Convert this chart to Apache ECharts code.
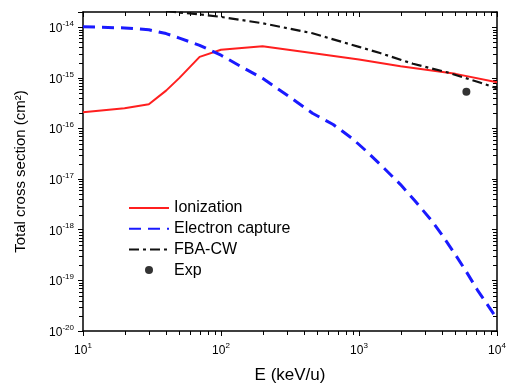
<!DOCTYPE html>
<html>
<head>
<meta charset="utf-8">
<script src="https://cdn.jsdelivr.net/npm/echarts@6/dist/echarts.min.js"></script>
<style>
  html, body { margin: 0; padding: 0; background: #fff; }
  #chart { width: 506px; height: 383px; }
</style>
</head>
<body>
<div id="chart"></div>
<script>
// Energy in keV/u, cross sections in cm^2
const ionizationE = [10, 20, 30, 40, 50, 70, 100, 200, 500, 1000, 2000, 5000, 10000];
const ionizationSigma = [2.1e-16, 2.5e-16, 3.0e-16, 5.6e-16, 1.0e-15, 2.6e-15, 3.6e-15, 4.2e-15, 3.0e-15, 2.3e-15, 1.7e-15, 1.2e-15, 8.2e-16];

const captureE = [10, 20, 30, 40, 50, 70, 100, 150, 200, 300, 460, 650, 890, 1140, 1500, 2000, 2550, 3400, 4000, 5000, 6000, 7200, 10000];
const captureSigma = [1.02e-14, 9.7e-15, 8.9e-15, 7.5e-15, 6.1e-15, 4.4e-15, 2.8e-15, 1.5e-15, 9.8e-16, 4.6e-16, 2.0e-16, 1.2e-16, 6.4e-17, 3.5e-17, 1.7e-17, 7.8e-18, 3.7e-18, 1.45e-18, 7.9e-19, 3.2e-19, 1.48e-19, 6.5e-20, 1.75e-20];

const fbaE = [40, 50, 70, 100, 200, 460, 1000, 1420, 2460, 4340, 7500, 10000];
const fbaSigma = [2.1e-14, 1.95e-14, 1.8e-14, 1.6e-14, 1.2e-14, 7.6e-15, 4.1e-15, 3.1e-15, 1.9e-15, 1.29e-15, 8.1e-16, 6.2e-16];

const expE = [6000];
const expSigma = [5.3e-16];

const seriesNames = ['Ionization', 'Electron capture', 'FBA-CW', 'Exp'];

const xMin = 10, xMax = 10000;
const yMin = 1e-20, yMax = 2e-14;

const FONT = '"Liberation Sans", Arial, sans-serif';

function pairs(xs, ys) {
  return xs.map((x, i) => [x, ys[i]]);
}

// 10^n labels with a raised exponent; non-decade ticks stay blank
function powerLabel(v) {
  const e = Math.log10(v);
  const n = Math.round(e);
  if (Math.abs(e - n) > 1e-6) return '';
  return '{b|10}{s|' + n + '}';
}
const powerRich = {
  b: { fontSize: 12, fontFamily: FONT, color: '#000', verticalAlign: 'bottom' },
  s: { fontSize: 8, fontFamily: FONT, color: '#000', verticalAlign: 'top', padding: [0, 0, 7, 0] }
};

const axisLine = { show: true, lineStyle: { color: '#000', width: 1.5 } };
const majorTick = (inside) => ({ show: true, inside: inside, length: 5, lineStyle: { color: '#000', width: 1 } });

const chart = echarts.init(document.getElementById('chart'), null, { renderer: 'canvas' });
chart.setOption({
  animation: false,
  backgroundColor: '#fff',
  grid: { left: 83, right: 9, top: 12, bottom: 52, containLabel: false, outerBoundsMode: 'none' },
  xAxis: [
    {
      type: 'log', logBase: 10, min: xMin, max: xMax, position: 'bottom',
      name: 'E (keV/u)', nameLocation: 'middle', nameGap: 36,
      nameTextStyle: { fontSize: 17, fontFamily: FONT, color: '#000' },
      axisLine: axisLine, axisTick: majorTick(false),
      axisLabel: { margin: 11, formatter: powerLabel, rich: powerRich, showMinLabel: true, showMaxLabel: true },
      splitLine: { show: false }
    },
    {
      type: 'log', logBase: 10, min: xMin, max: xMax, position: 'top',
      axisLine: axisLine, axisTick: majorTick(true),
      axisLabel: { show: false }, splitLine: { show: false }
    }
  ],
  yAxis: [
    {
      type: 'log', logBase: 10, min: yMin, max: yMax, position: 'left',
      name: 'Total cross section (cm²)', nameLocation: 'middle', nameGap: 55,
      nameTextStyle: { fontSize: 15, fontFamily: FONT, color: '#000' },
      axisLine: axisLine, axisTick: majorTick(false),
      axisLabel: { margin: 9, formatter: powerLabel, rich: powerRich, showMinLabel: true, showMaxLabel: true },
      splitLine: { show: false }
    },
    {
      type: 'log', logBase: 10, min: yMin, max: yMax, position: 'right',
      axisLine: axisLine, axisTick: majorTick(true),
      axisLabel: { show: false }, splitLine: { show: false }
    }
  ],
  legend: {
    orient: 'vertical', left: 123, top: 195,
    itemWidth: 40, itemHeight: 8, itemGap: 4.7,
    textStyle: { fontSize: 16, fontFamily: FONT, color: '#000' },
    data: [
      { name: seriesNames[0], itemStyle: { opacity: 0 } },
      { name: seriesNames[1], itemStyle: { opacity: 0 } },
      { name: seriesNames[2], itemStyle: { opacity: 0 } },
      { name: seriesNames[3] }
    ]
  },
  series: [
    {
      name: seriesNames[0], type: 'line', data: pairs(ionizationE, ionizationSigma),
      symbol: 'none', clip: true,
      lineStyle: { color: '#ff1f1f', width: 2 }, itemStyle: { color: '#ff1f1f' }
    },
    {
      name: seriesNames[1], type: 'line', data: pairs(captureE, captureSigma),
      symbol: 'none', clip: true,
      lineStyle: { color: '#1a1aff', width: 3, type: [12, 7] }, itemStyle: { color: '#1a1aff' }
    },
    {
      name: seriesNames[2], type: 'line', data: pairs(fbaE, fbaSigma),
      symbol: 'none', clip: true,
      lineStyle: { color: '#111', width: 2.2, type: [10, 4, 3, 4] }, itemStyle: { color: '#111' }
    },
    {
      name: seriesNames[3], type: 'scatter', data: pairs(expE, expSigma),
      symbol: 'circle', symbolSize: 8, symbolKeepAspect: true,
      itemStyle: { color: '#000' }
    }
  ]
});

// Minor ticks at 2..9 within each decade, placed through the axes' own scales:
// outward on the bottom/left axes, inward on the top/right ones.
const minorLen = 4;
const gx0 = chart.convertToPixel({ xAxisIndex: 0 }, xMin);
const gx1 = chart.convertToPixel({ xAxisIndex: 0 }, xMax);
const gyB = chart.convertToPixel({ yAxisIndex: 0 }, yMin);
const gyT = chart.convertToPixel({ yAxisIndex: 0 }, yMax);
const tickShapes = [];
for (let d = xMin; d < xMax; d *= 10) {
  for (let m = 2; m <= 9; m++) {
    const x = Math.round(chart.convertToPixel({ xAxisIndex: 0 }, d * m)) + 0.5;
    tickShapes.push({ x1: x, y1: gyB, x2: x, y2: gyB + minorLen });
    tickShapes.push({ x1: x, y1: gyT, x2: x, y2: gyT + minorLen });
  }
}
for (let p = -20; p <= -15; p++) {
  for (let m = 2; m <= 9; m++) {
    const y = Math.round(chart.convertToPixel({ yAxisIndex: 0 }, m * Math.pow(10, p))) + 0.5;
    tickShapes.push({ x1: gx0 - minorLen, y1: y, x2: gx0, y2: y });
    tickShapes.push({ x1: gx1 - minorLen, y1: y, x2: gx1, y2: y });
  }
}
chart.setOption({
  graphic: tickShapes.map(s => ({
    type: 'line', shape: s, silent: true,
    style: { stroke: '#000', lineWidth: 1 }
  }))
});
</script>
</body>
</html>
